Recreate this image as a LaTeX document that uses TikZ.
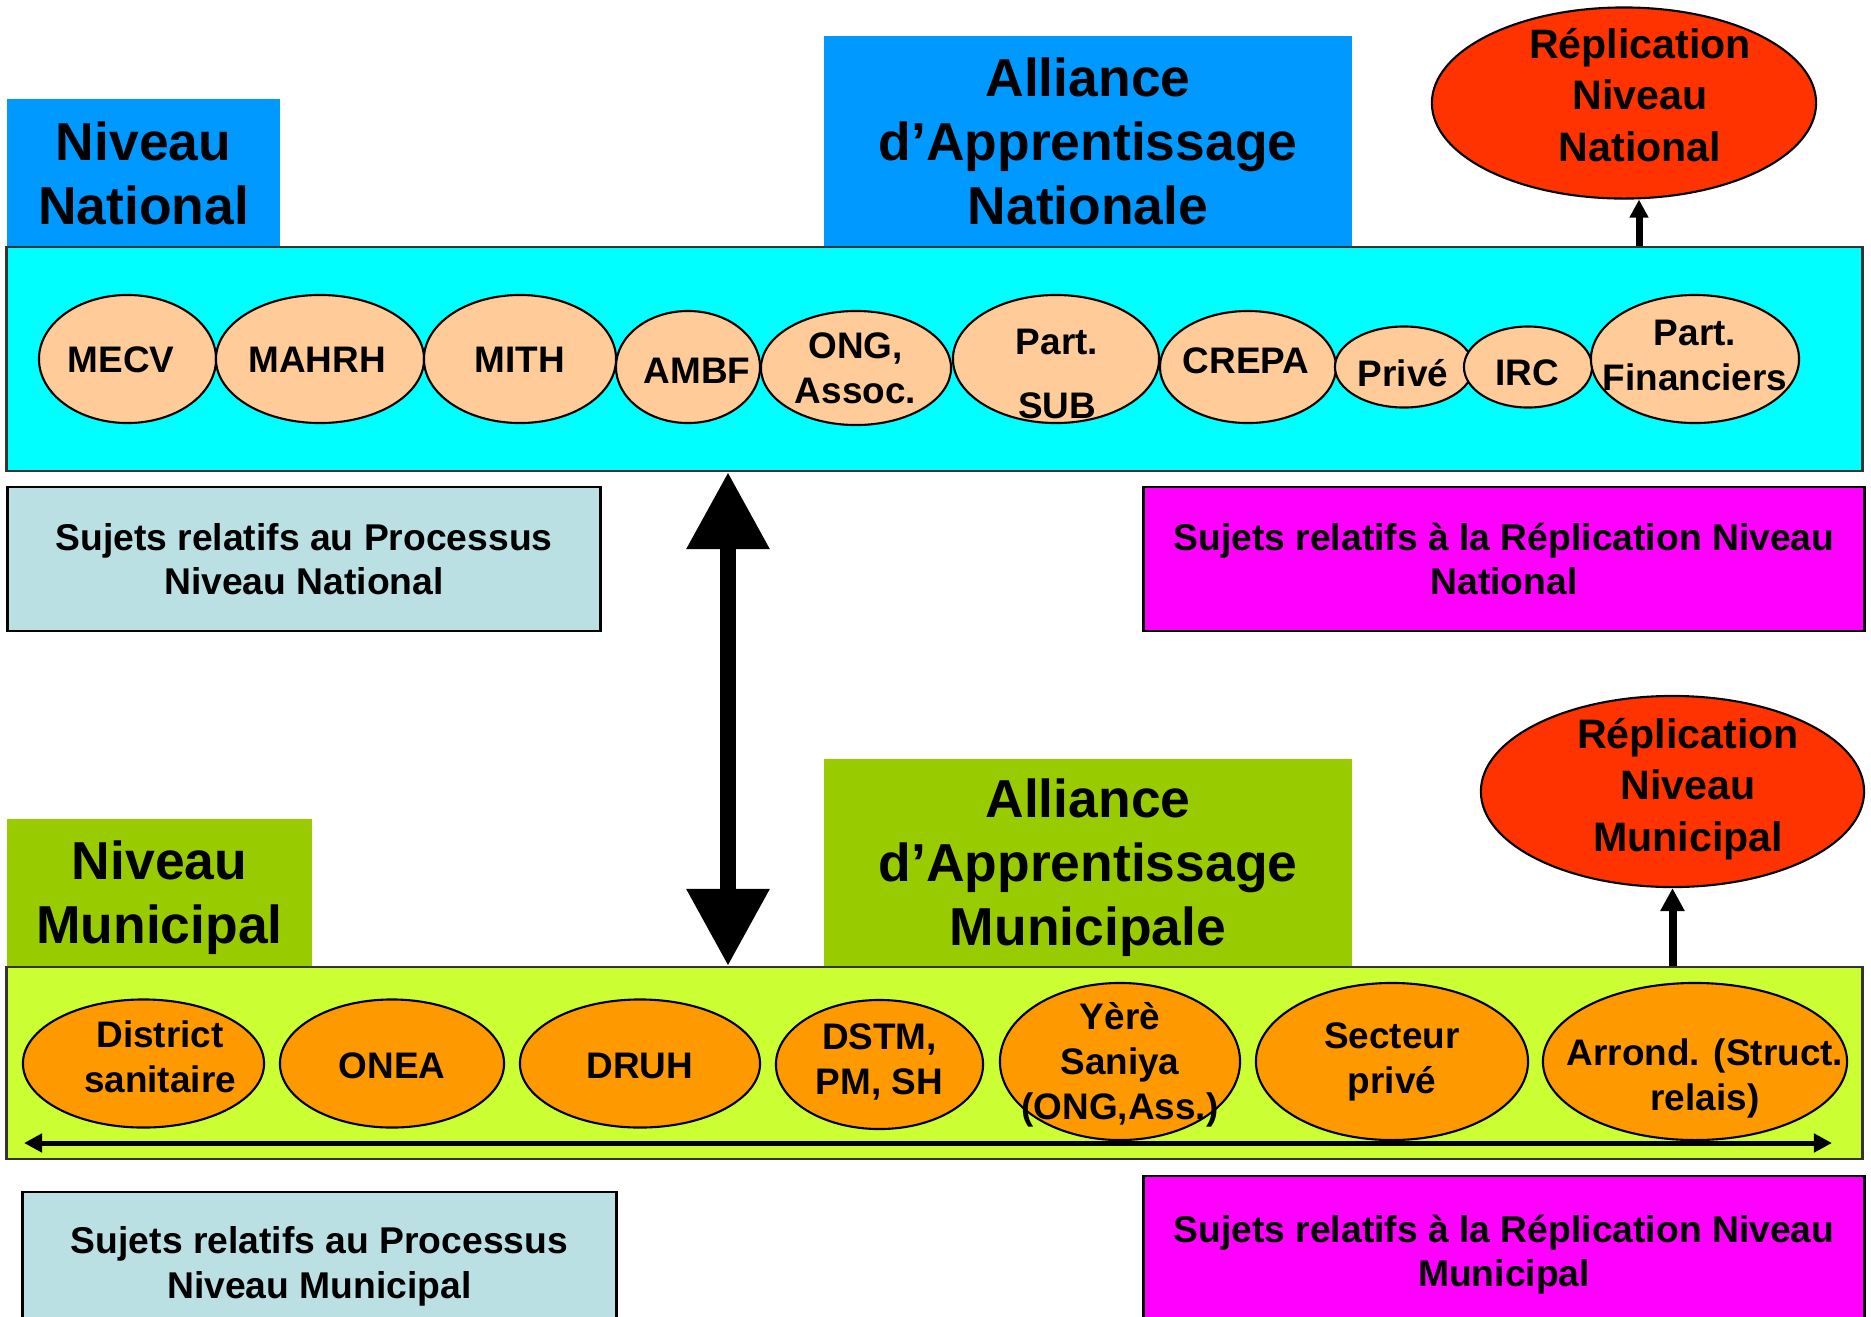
\documentclass[tikz,border=0pt]{standalone}
\usepackage{fontspec}
\setmainfont{Liberation Sans}
\usetikzlibrary{shapes.geometric,arrows.meta}

\definecolor{natblue}{HTML}{0099FF}
\definecolor{natcyan}{HTML}{00FFFF}
\definecolor{natpeach}{HTML}{FFCC99}
\definecolor{munolive}{HTML}{99CC00}
\definecolor{munlime}{HTML}{CCFF33}
\definecolor{munorange}{HTML}{FF9900}
\definecolor{repred}{HTML}{FF3300}
\definecolor{subjblue}{HTML}{BBE0E3}
\definecolor{subjpink}{HTML}{FF00FF}

% last line with a set depth (moves the text block down a little)
\newcommand{\flatbase}[2][0pt]{\raisebox{0pt}[\height][#1]{#2}}

\tikzset{
  headbox/.style={inner sep=0pt, align=center, font=\fontsize{15.2}{18.2}\selectfont\bfseries},
  band/.style={draw=black!80, line width=0.6pt, inner sep=0pt},
  actor/.style={ellipse, draw, line width=0.6pt, inner sep=0pt},
  actortext/.style={inner sep=0pt, align=center, font=\fontsize{10.5}{12.8}\selectfont\bfseries},
  repl/.style={ellipse, draw, fill=repred, line width=0.6pt, inner sep=0pt},
  repltext/.style={inner sep=0pt, align=center, font=\fontsize{11.7}{14.6}\selectfont\bfseries},
  subjbox/.style={draw, line width=0.8pt, inner sep=0pt, align=center,
    font=\fontsize{10.6}{12.6}\selectfont\bfseries},
  smallarrow/.style={line width=0.07cm, -{Triangle[width=0.18cm,length=0.18cm]}},
  uparrow/.style={line width=0.08cm, -{Triangle[width=0.23cm,length=0.23cm]}},
  linkarrow/.style={line width=0.16cm, {Triangle[width=0.79cm,length=0.77cm]}-{Triangle[width=0.79cm,length=0.77cm]}},
  spanarrow/.style={line width=0.05cm, {Triangle[width=0.18cm,length=0.18cm]}-{Triangle[width=0.18cm,length=0.18cm]}}
}

\begin{document}
\begin{tikzpicture}[x=0.01cm, y=-0.01cm]
    \useasboundingbox (0,0) rectangle (1871,1317);

    % National level
    \node [headbox, fill=natblue, minimum width=2.73cm, minimum height=1.48cm] (natlevel) at (143.5,173) {Niveau\\National};
    \node [headbox, fill=natblue, minimum width=5.28cm, minimum height=2.11cm] (natalliance) at (1088,141.5) {Alliance\\d’Apprentissage\\Nationale};
    \node [band, fill=natcyan, minimum width=18.55cm, minimum height=2.24cm] (natband) at (934.5,359) {};

    \node [actor, fill=natpeach, minimum width=1.77cm, minimum height=1.28cm] (mecv) at (127.5,359) {};
    \node [actor, fill=natpeach, minimum width=2.08cm, minimum height=1.28cm] (mahrh) at (320,359) {};
    \node [actor, fill=natpeach, minimum width=1.92cm, minimum height=1.28cm] (mith) at (520,359) {};
    \node [actor, fill=natpeach, minimum width=1.44cm, minimum height=1.12cm] (ambf) at (688,367) {};
    \node [actor, fill=natpeach, minimum width=1.90cm, minimum height=1.14cm] (ong) at (856,368) {};
    \node [actor, fill=natpeach, minimum width=2.06cm, minimum height=1.28cm] (sub) at (1056,359) {};
    \node [actor, fill=natpeach, minimum width=1.76cm, minimum height=1.12cm] (crepa) at (1248,367) {};
    \node [actor, fill=natpeach, minimum width=1.38cm, minimum height=0.81cm] (prive) at (1404,367) {};
    \node [actor, fill=natpeach, minimum width=1.28cm, minimum height=0.81cm] (irc) at (1528,367) {};
    \node [actor, fill=natpeach, minimum width=2.08cm, minimum height=1.28cm] (partfin) at (1695,359) {};

    \node [actortext] (mecvlbl) at (121,360) {MECV};
    \node [actortext] (mahrhlbl) at (317,360) {MAHRH};
    \node [actortext] (mithlbl) at (520,360) {MITH};
    \node [actortext] (ambflbl) at (697,371) {AMBF};
    \node [actortext] (onglbl) at (855.5,368) {ONG,\\Assoc.};
    \node [actortext] (sublbl) at (1057,374) {Part.\\[5.4pt]SUB};
    \node [actortext] (crepalbl) at (1246,361) {CREPA};
    \node [actortext] (privelbl) at (1403,373) {Privé};
    \node [actortext] (irclbl) at (1527,373) {IRC};
    \node [actortext] (partfinlbl) at (1695,355) {Part.\\Financiers};

    \node [repl, minimum width=3.84cm, minimum height=1.91cm] (replnat) at (1624,103) {};
    \node [repltext] (replnatlbl) at (1640,95) {Réplication\\Niveau\\National};
    \draw [smallarrow] ([xshift=0.15cm]replnat.south |- natband.north) -- ([xshift=0.15cm]replnat.south);

    \node [subjbox, fill=subjblue, minimum width=5.92cm, minimum height=1.44cm] (subjnat) at (304,559) {Sujets relatifs au Processus\\\flatbase[-3.4pt]{Niveau National}};
    \node [subjbox, fill=subjpink, minimum width=7.2cm, minimum height=1.44cm] (replsubjnat) at (1504,559) {Sujets relatifs à la Réplication Niveau\\\flatbase[-3.4pt]{National}};

    % Municipal level
    \node [headbox, fill=munolive, minimum width=3.05cm, minimum height=1.47cm] (munlevel) at (159.5,892.5) {Niveau\\\flatbase[-2pt]{Municipal}};
    \node [headbox, fill=munolive, minimum width=5.28cm, minimum height=2.07cm] (munalliance) at (1088,862.5) {Alliance\\d’Apprentissage\\\flatbase[-3pt]{Municipale}};
    \node [band, fill=munlime, minimum width=18.55cm, minimum height=1.92cm] (munband) at (934.5,1063) {};

    \node [actor, fill=munorange, minimum width=2.41cm, minimum height=1.28cm] (district) at (143.5,1063.5) {};
    \node [actor, fill=munorange, minimum width=2.24cm, minimum height=1.28cm] (onea) at (392,1063.5) {};
    \node [actor, fill=munorange, minimum width=2.40cm, minimum height=1.28cm] (druh) at (640,1063.5) {};
    \node [actor, fill=munorange, minimum width=2.07cm, minimum height=1.29cm] (dstm) at (879.5,1064.5) {};
    \node [actor, fill=munorange, minimum width=2.40cm, minimum height=1.57cm] (yere) at (1120,1061.5) {};
    \node [actor, fill=munorange, minimum width=2.72cm, minimum height=1.57cm] (secteur) at (1392,1061.5) {};
    \node [actor, fill=munorange, minimum width=3.04cm, minimum height=1.57cm] (arrond) at (1695,1061.5) {};

    \node [actortext] (districtlbl) at (160,1057) {District\\sanitaire};
    \node [actortext] (onealbl) at (392,1066) {ONEA};
    \node [actortext] (druhlbl) at (640,1066) {DRUH};
    \node [actortext] (dstmlbl) at (879.5,1062) {DSTM,\\PM, SH};
    \node [actortext] (yerelbl) at (1120,1065) {Yèrè\\Saniya\\(ONG,Ass.)};
    \node [actortext] (secteurlbl) at (1392,1061.5) {Secteur\\privé};
    \node [actortext] (arrondlbl) at (1705,1078) {Arrond. (Struct.\\relais)};

    \coordinate (spanl) at (24,1143);
    \coordinate (spanr) at (1832,1143);
    \draw [spanarrow] (spanl) -- (spanr);

    \node [repl, minimum width=3.83cm, minimum height=1.91cm] (replmun) at (1672.5,791.5) {};
    \node [repltext] (replmunlbl) at (1688,789) {Réplication\\Niveau\\Municipal};
    \draw [uparrow] (replmun.south |- munband.north) -- (replmun.south);

    \node [subjbox, fill=subjblue, minimum width=5.93cm, minimum height=1.49cm] (subjmun) at (319.5,1266.5) {Sujets relatifs au Processus\\Niveau Municipal};
    \node [subjbox, fill=subjpink, minimum width=7.2cm, minimum height=1.58cm] (replsubjmun) at (1504,1255) {Sujets relatifs à la Réplication Niveau\\Municipal};

    % link between the two levels
    \coordinate (link) at (728,700);
    \draw [linkarrow] (link |- natband.south) -- (link |- munband.north);

\end{tikzpicture}
\end{document}
